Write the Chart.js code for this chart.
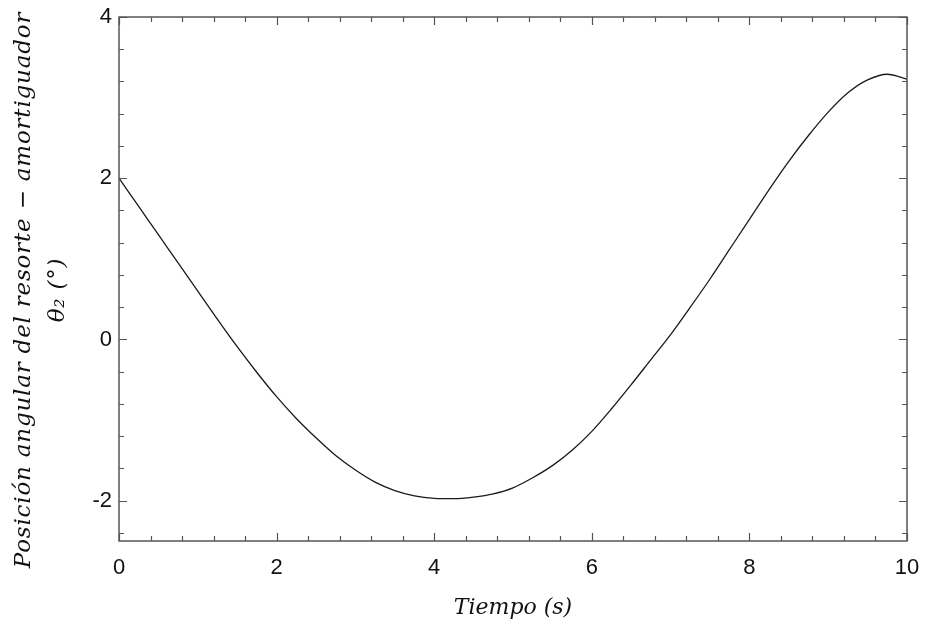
<!DOCTYPE html>
<html>
<head>
<meta charset="utf-8">
<script src="https://cdn.jsdelivr.net/npm/chart.js@4.4.1/dist/chart.umd.min.js"></script>
<style>
  html, body { margin: 0; padding: 0; background: #fff; }
  #wrap { width: 926px; height: 629px; }
</style>
</head>
<body>
<div id="wrap"><canvas id="theta"></canvas></div>
<script>
// tiempo (s) y posición angular theta2 (grados)
const tiempo = [0, 0.25, 0.5, 0.75, 1, 1.25, 1.5, 1.75, 2, 2.25, 2.5, 2.75, 3, 3.25, 3.5, 3.75,
  4, 4.25, 4.5, 4.75, 5, 5.25, 5.5, 5.75, 6, 6.25, 6.5, 6.75, 7, 7.25, 7.5, 7.75,
  8, 8.25, 8.5, 8.75, 9, 9.25, 9.5, 9.75, 10];
const theta2 = [2.00, 1.65, 1.30, 0.95, 0.60, 0.25, -0.09, -0.41, -0.71, -0.98, -1.22, -1.44, -1.62, -1.77, -1.875, -1.94,
  -1.97, -1.975, -1.955, -1.915, -1.84, -1.715, -1.565, -1.375, -1.14, -0.86, -0.56, -0.25, 0.06, 0.40, 0.75, 1.12,
  1.49, 1.86, 2.21, 2.53, 2.82, 3.06, 3.22, 3.29, 3.23];

const xTicks = [0, 2, 4, 6, 8, 10];
const yTicks = [-2, 0, 2, 4];
const xTitle = "Tiempo (s)";
const yTitle = ["Posición angular del resorte − amortiguador", "θ₂ (°)"];

const serif = "'DejaVu Serif', serif";
const sans = "'Liberation Sans', Arial, sans-serif";

// caja cerrada con marcas hacia dentro en los cuatro lados
const frame = {
  id: "frame",
  afterDraw(chart) {
    const { ctx, chartArea: a, scales: { x, y } } = chart;
    ctx.save();
    ctx.strokeStyle = "#555";
    ctx.lineWidth = 1.5;
    ctx.strokeRect(a.left, a.top, a.right - a.left, a.bottom - a.top);

    ctx.lineWidth = 1.2;
    ctx.beginPath();
    for (let i = 0; i <= 25; i++) {
      const v = +(i * 0.4).toFixed(1);
      const px = Math.round(x.getPixelForValue(v)) + 0.5;
      const len = xTicks.includes(v) ? 8 : 5;
      ctx.moveTo(px, a.bottom); ctx.lineTo(px, a.bottom - len);
      ctx.moveTo(px, a.top); ctx.lineTo(px, a.top + len);
    }
    for (let i = 0; i <= 16; i++) {
      const v = +(4 - i * 0.4).toFixed(1);
      const py = Math.round(y.getPixelForValue(v)) + 0.5;
      const len = yTicks.includes(v) ? 8 : 5;
      ctx.moveTo(a.left, py); ctx.lineTo(a.left + len, py);
      ctx.moveTo(a.right, py); ctx.lineTo(a.right - len, py);
    }
    ctx.stroke();

    // título vertical en dos líneas
    ctx.fillStyle = "#111";
    ctx.font = "italic 23px " + serif;
    ctx.letterSpacing = "0.8px";
    ctx.textAlign = "center";
    ctx.textBaseline = "middle";
    ctx.translate(0, 290);
    ctx.rotate(-Math.PI / 2);
    ctx.fillText(yTitle[0], 0, 24);
    ctx.fillText(yTitle[1], 0, 58);
    ctx.restore();
  }
};

new Chart(document.getElementById("theta"), {
  type: "line",
  data: {
    datasets: [{
      data: tiempo.map((t, i) => ({ x: t, y: theta2[i] })),
      borderColor: "#1a1a1a",
      borderWidth: 1.3,
      pointRadius: 0,
      cubicInterpolationMode: "monotone",
      fill: false
    }]
  },
  options: {
    responsive: true,
    maintainAspectRatio: false,
    animation: false,
    layout: { padding: { top: 17, right: 19, left: 0, bottom: 0 } },
    plugins: { legend: { display: false }, tooltip: { enabled: false } },
    scales: {
      x: {
        type: "linear",
        min: 0, max: 10,
        afterBuildTicks: s => { s.ticks = xTicks.map(v => ({ value: v })); },
        afterFit: s => { s.height = 88; s.paddingLeft = 0; s.paddingRight = 0; },
        grid: { display: false, drawTicks: false },
        border: { display: false },
        ticks: { color: "#111", font: { family: sans, size: 22 }, padding: 14, maxRotation: 0 },
        title: { display: true, text: xTitle, color: "#111", font: { family: serif, size: 22, style: "italic" }, padding: { top: 0, bottom: 8 } }
      },
      y: {
        min: -2.5, max: 4,
        afterBuildTicks: s => { s.ticks = yTicks.map(v => ({ value: v })); },
        afterFit: s => { s.width = 119; s.paddingTop = 0; s.paddingBottom = 0; },
        grid: { display: false, drawTicks: false },
        border: { display: false },
        ticks: { color: "#111", font: { family: sans, size: 22 }, padding: 7 }
      }
    }
  },
  plugins: [frame]
});
</script>
</body>
</html>
